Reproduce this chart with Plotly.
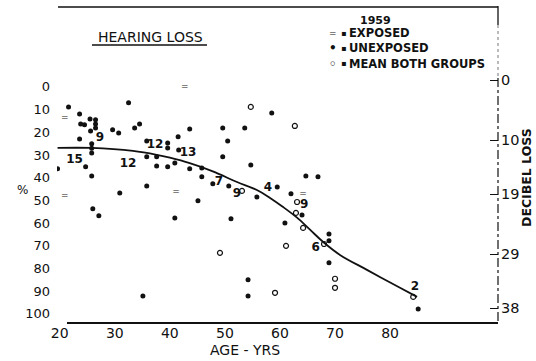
import plotly.graph_objects as go

# ---- data -------------------------------------------------------------
# Unexposed subjects: age (years) and hearing loss (%)
unexp_age = [21.6, 23.6, 23.8, 24.5, 25.5, 25.6, 26.5, 26.5, 26.5, 23.6,
             25.8, 25.8, 25.8, 29.6, 30.7, 32.5, 33.6, 34.5, 35.8, 39.6,
             39.6, 41.6, 41.5, 35.8, 37.6, 37.6, 39.6, 40.9, 19.6, 24.7,
             25.8, 43.6, 58.5, 49.6, 53.6, 50.5, 49.6, 54.7, 43.6, 45.8,
             45.8, 64.7, 66.9, 35.8, 30.9, 26.0, 27.1, 40.9, 45.1, 47.8,
             50.7, 51.1, 55.8, 59.5, 62.0, 64.0, 60.9, 68.9, 68.9, 68.9,
             54.2, 54.2, 35.1, 85.1]
unexp_pct = [8.8, 11.9, 16.3, 16.7, 14.1, 19.4, 14.5, 16.3, 18.1, 22.9,
             25.0, 27.0, 29.1, 18.9, 20.3, 7.0, 18.1, 16.3, 23.8, 24.7,
             26.9, 27.8, 22.0, 30.8, 30.8, 34.8, 35.2, 33.5, 36.1, 35.2,
             39.2, 18.5, 11.5, 18.1, 18.1, 23.8, 30.8, 34.4, 36.1, 35.7,
             39.6, 39.2, 39.6, 43.6, 46.7, 53.7, 56.8, 57.7, 50.2, 42.7,
             43.6, 58.1, 48.5, 44.1, 47.1, 56.4, 59.9, 64.8, 67.8, 77.5,
             85.0, 92.1, 92.1, 97.8]

# Exposed subjects
exp_age = [20.9, 20.9, 42.7, 41.1, 64.2]
exp_pct = [13.7, 48.0, 0.0, 46.3, 47.1]

# Mean of both groups
mean_age = [54.7, 62.7, 53.1, 63.1, 62.9, 64.2, 49.1, 61.1, 68.0, 59.1,
            70.0, 70.0, 84.2]
mean_pct = [8.8, 17.2, 45.8, 50.7, 55.5, 62.1, 73.1, 70.0, 69.2, 90.7,
            84.5, 88.5, 92.5]

# Group sizes written beside the mean curve
count_age = [22.7, 27.3, 32.4, 37.3, 43.3, 48.9, 52.2, 57.8, 64.4, 66.5, 84.5]
count_pct = [32.4, 22.7, 34.0, 25.8, 28.9, 41.8, 47.1, 44.4, 52.0, 71.0, 88.0]
count_txt = ["15", "9", "12", "12", "13", "7", "9", "4", "9", "6", "2"]

# Fitted mean curve
curve_age = [19.6, 25.8, 33.3, 37.6, 40.0, 43.6, 47.8, 52.2, 55.8, 58.2,
             60.5, 63.1, 65.5, 67.8, 70.9, 75.8, 81.8, 84.9]
curve_pct = [26.9, 26.9, 28.2, 29.9, 31.2, 33.6, 37.2, 41.9, 45.4, 48.9,
             52.8, 57.6, 63.0, 68.2, 74.0, 80.6, 88.5, 92.5]

# Axis ticks
age_ticks = [20, 30, 40, 50, 60, 70, 80]
pct_ticks = [0, 10, 20, 30, 40, 50, 60, 70, 80, 90, 100]
db_ticks = [0, 10, 19, 29, 38]

# ---- figure -----------------------------------------------------------
W, H = 536, 361
ML, MR, MT, MB = 57, 38, 7, 38
PW, PH = W - ML - MR, H - MT - MB


def px(x):
    """horizontal page pixel -> paper fraction"""
    return (x - ML) / PW


def py(y):
    """vertical page pixel -> paper fraction"""
    return (H - MB - y) / PH


FONT = "DejaVu Sans"
INK = "#111111"

fig = go.Figure()

fig.add_trace(go.Scatter(
    x=curve_age, y=curve_pct, mode="lines",
    line=dict(color=INK, width=1.8, shape="spline", smoothing=1.0),
    hoverinfo="skip", showlegend=False))

fig.add_trace(go.Scatter(
    x=unexp_age, y=unexp_pct, mode="markers",
    marker=dict(symbol="circle", size=5, color=INK),
    name="UNEXPOSED", showlegend=False))

fig.add_trace(go.Scatter(
    x=exp_age, y=exp_pct, mode="text", text=["="] * len(exp_age),
    textfont=dict(family=FONT, size=9, color=INK),
    name="EXPOSED", showlegend=False))

fig.add_trace(go.Scatter(
    x=mean_age, y=mean_pct, mode="markers",
    marker=dict(symbol="circle-open", size=5, color=INK,
                line=dict(width=1.2, color=INK)),
    name="MEAN BOTH GROUPS", showlegend=False))

fig.add_trace(go.Scatter(
    x=count_age, y=count_pct, mode="text", text=count_txt,
    textfont=dict(family=FONT, size=12, color=INK, weight="bold"),
    hoverinfo="skip", showlegend=False))

# empty trace so the decibel axis is drawn
fig.add_trace(go.Scatter(x=[None], y=[None], yaxis="y2",
                         hoverinfo="skip", showlegend=False))

fig.update_layout(
    width=W, height=H,
    margin=dict(l=ML, r=MR, t=MT, b=MB),
    paper_bgcolor="white", plot_bgcolor="white",
    font=dict(family=FONT, color=INK),
    xaxis=dict(range=[19.5, 99.6], tickvals=age_ticks,
               ticktext=[str(v) for v in age_ticks],
               showgrid=False, zeroline=False, showline=False, ticks="",
               tickfont=dict(size=14, color=INK)),
    yaxis=dict(range=[104, -35.2], tickvals=pct_ticks,
               ticktext=[str(v) for v in pct_ticks],
               showgrid=False, zeroline=False, showline=False, ticks="",
               ticklabelstandoff=6,
               tickfont=dict(size=13, color=INK)),
    yaxis2=dict(overlaying="y", side="right", range=[40.5, -12.17],
                tickvals=db_ticks, ticktext=[str(v) for v in db_ticks],
                showgrid=False, zeroline=False, showline=False,
                ticks="inside", ticklen=8, tickwidth=1.4, tickcolor=INK,
                ticklabelstandoff=2,
                tickfont=dict(size=14.5, color=INK)),
)

# frame: top rule, broken right rule, bottom axis rule
shapes = [
    dict(type="line", xref="paper", yref="paper", x0=px(58), x1=1.0,
         y0=1.0, y1=1.0, line=dict(color=INK, width=1.6)),
    dict(type="line", xref="paper", yref="paper", x0=1.0, x1=1.0,
         y0=py(6), y1=py(25), line=dict(color=INK, width=1.3)),
    dict(type="line", xref="paper", yref="paper", x0=1.0, x1=1.0,
         y0=py(25), y1=py(78), line=dict(color="#777777", width=1, dash="dot")),
    dict(type="line", xref="paper", yref="paper", x0=1.0, x1=1.0,
         y0=py(78), y1=py(322), line=dict(color=INK, width=1.2, dash="dashdot")),
    dict(type="line", xref="paper", yref="paper", x0=px(67), x1=1.0,
         y0=0.0, y1=0.0, line=dict(color=INK, width=2)),
    # underline of the heading
    dict(type="line", xref="paper", yref="paper", x0=px(92), x1=px(207),
         y0=py(45), y1=py(45), line=dict(color=INK, width=1.3)),
]
fig.update_layout(shapes=shapes)


def note(text, x, y, size=12, bold=False, xanchor="center", angle=0):
    fig.add_annotation(text=text, xref="paper", yref="paper", x=x, y=y,
                       xanchor=xanchor, yanchor="middle", showarrow=False,
                       textangle=angle,
                       font=dict(family=FONT, size=size, color=INK,
                                 weight="bold" if bold else "normal"))


note("HEARING LOSS", px(150), py(37), size=14)
note("1959", px(375), py(20), size=11, bold=True)
note("=", px(333), py(33), size=9)
note("•", px(333), py(48), size=12, bold=True)
note("◦", px(333), py(64), size=12, bold=True)
for yy in (33, 48, 64):
    note("▪", px(343), py(yy), size=8)
note("EXPOSED", px(347), py(33), size=11.5, bold=True, xanchor="left")
note("UNEXPOSED", px(347), py(48), size=11.5, bold=True, xanchor="left")
note("MEAN BOTH GROUPS", px(347), py(64), size=11.5, bold=True, xanchor="left")
note("AGE - YRS", px(245), py(350), size=14)
note("%", px(22), py(190), size=12)
note("DECIBEL LOSS", px(526), py(178), size=12.5, bold=True, angle=-90)

fig.write_html("out.html")
